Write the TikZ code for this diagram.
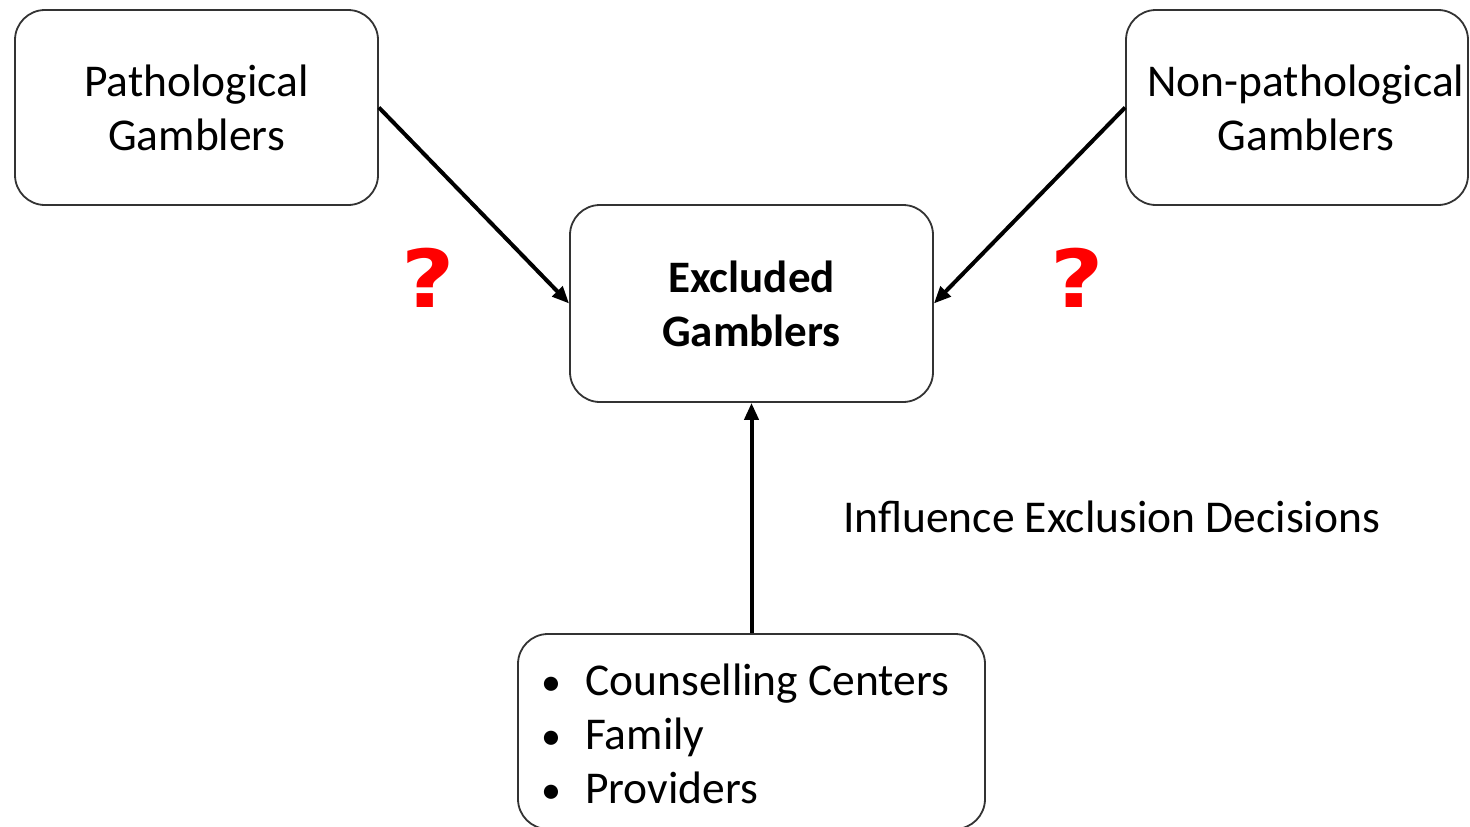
\documentclass[tikz,border=0pt]{standalone}
\usepackage{fontspec}
\setmainfont{Carlito}
\newfontfamily\qfont{DejaVu Sans}
\usetikzlibrary{arrows.meta}

\newcommand{\listdot}{\makebox[47pt][l]{\hspace{3pt}\raisebox{0pt}{\fontsize{40}{40}\selectfont•}}}

\begin{document}
\begin{tikzpicture}[x=1pt,y=-1pt,
  box/.style={draw=black!80, line width=1.8pt, rounded corners=30pt,
              inner sep=0pt, align=center,
              font=\fontsize{45.5}{54}\selectfont},
  link/.style={line width=4pt, -{Triangle[length=17pt,width=14pt]}},
  qmark/.style={text=red, inner sep=0pt,
                font=\qfont\bfseries\fontsize{80}{80}\selectfont},
  plain/.style={inner sep=0pt, font=\fontsize{45.5}{54}\selectfont}]
\useasboundingbox[fill=white] (0,0) rectangle (1470,827);

% the four boxes
\node[box, minimum width=363pt, minimum height=195pt] (pg) at (196.5,107.5)
  {Pathological\\Gamblers};
\node[box, minimum width=342pt, minimum height=195pt] (np) at (1297,107.5) {};
\node[plain, align=center] (npt) at (1306,107.5) {Non-pathological\\Gamblers};
\node[box, minimum width=363pt, minimum height=197pt,
      font=\bfseries\fontsize{45}{54}\selectfont] (ex) at (751.5,303.5)
  {Excluded\\Gamblers};
\node[box, minimum width=467pt, minimum height=195pt] (inf) at (751.5,731.5) {};

% bullet list inside the lower box
\node[plain, anchor=west, align=left] (list) at (538,734)
  {\listdot Counselling Centers\\
   \listdot Family\\
   \listdot Providers};

% connectors
\draw[link] (pg.east) -- (ex.west);
\draw[link] (np.west) -- (ex.east);
\draw[link] (inf.north) -- (ex.south);

% labels
\node[qmark] (q1) at (428,278) {\scalebox{1.15}[1]{?}};
\node[qmark] (q2) at (1077,278) {\scalebox{1.15}[1]{?}};
\node[plain, anchor=west] (lbl) at (843,517) {Influence Exclusion Decisions};
\end{tikzpicture}
\end{document}
